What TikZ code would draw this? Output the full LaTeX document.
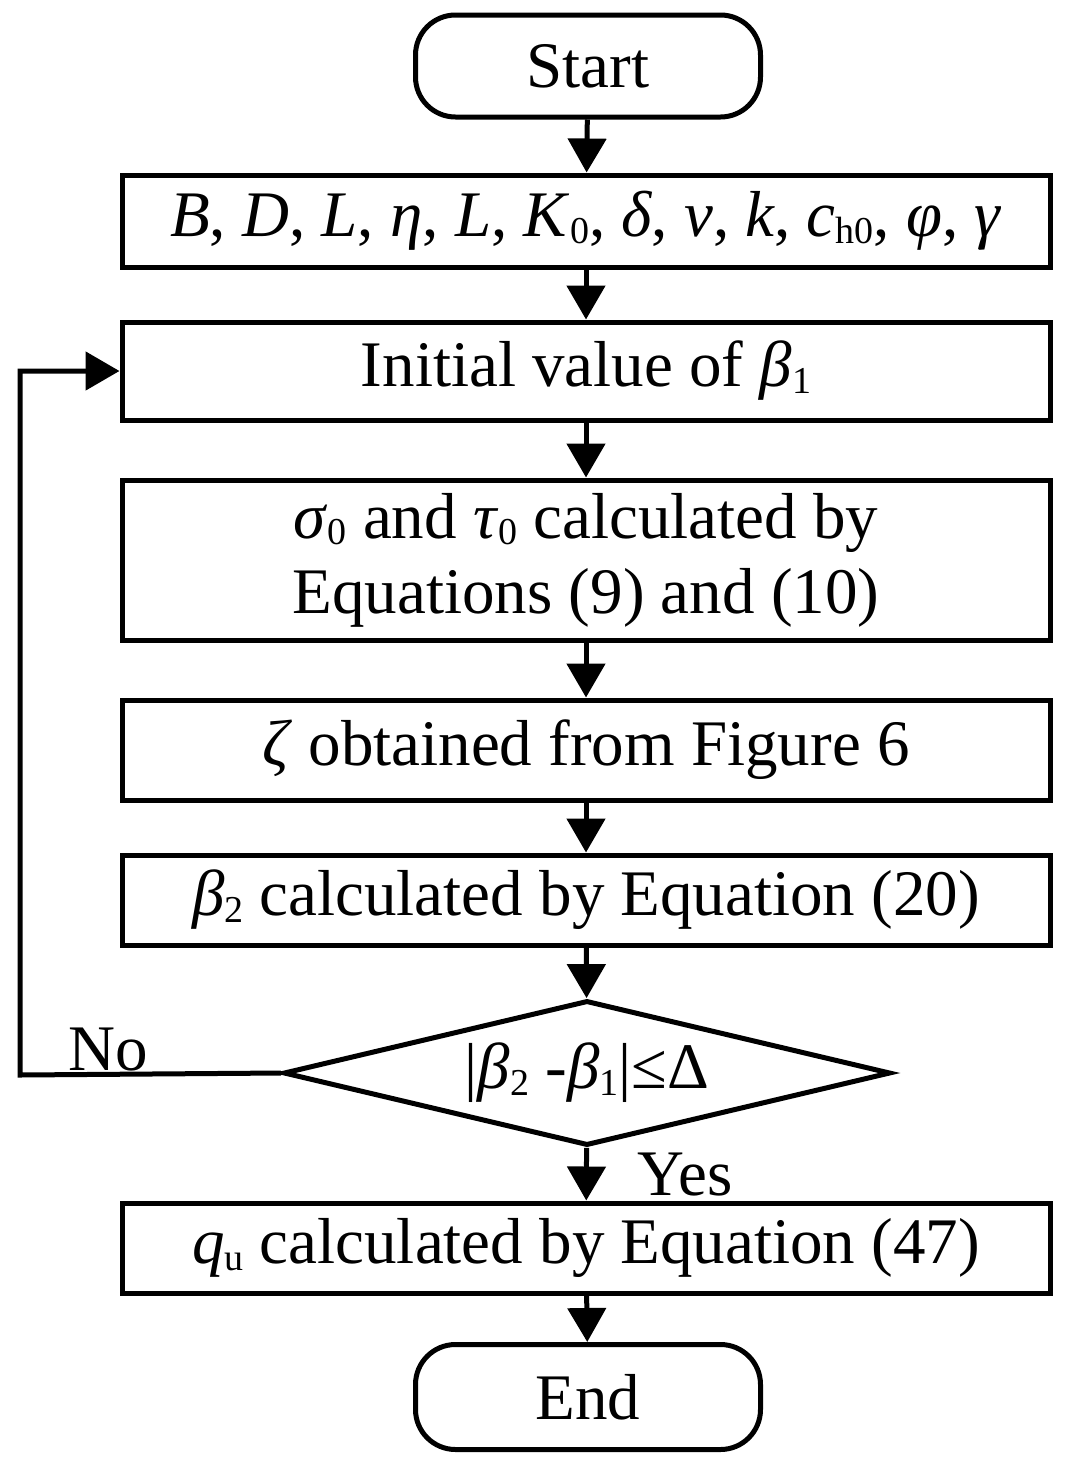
\documentclass[tikz,border=0pt]{standalone}
\usepackage{fontspec}
\setmainfont{Liberation Serif}
\usetikzlibrary{shapes.geometric,arrows.meta}
\newcommand{\sbs}[1]{\raisebox{-0.1em}{\fontsize{38}{38}\selectfont #1}}
\begin{document}
\begin{tikzpicture}[x=1pt,y=-1pt,line width=5pt,
  every node/.style={font=\fontsize{65}{75}\selectfont},
  box/.style={draw,minimum width=928pt,inner sep=0pt,align=center},
  term/.style={draw,rounded corners=40pt,minimum width=345pt,minimum height=102pt,inner sep=0pt},
  arr/.style={-{Triangle[length=34pt,width=38pt]}}]
\useasboundingbox (0,0) rectangle (1067,1465);
\node[term] (s) at (588,66) {Start};
\node[box,minimum height=92pt] (b1) at (586,221) {\textit{B}, \textit{D}, \textit{L}, \textit{η}, \textit{L}, \textit{K}\sbs{0}, \textit{δ}, \textit{v}, \textit{k}, \textit{c}\sbs{h0}, \textit{φ}, \textit{γ}};
\node[box,minimum height=98pt] (b2) at (586,371) {Initial value of \textit{β}\sbs{1}};
\node[box,minimum height=160pt] (b3) at (586,560) {\textit{σ}\sbs{0} and \textit{τ}\sbs{0} calculated by\\Equations (9) and (10)};
\node[box,minimum height=100pt] (b4) at (586,750) {\textit{ζ} obtained from Figure 6};
\node[box,minimum height=90pt] (b5) at (586,900) {\textit{β}\sbs{2} calculated by Equation (20)};
\node[draw,diamond,aspect=4.2,minimum width=607pt,minimum height=145pt,inner sep=0pt] (d) at (587,1073) {|\textit{β}\sbs{2} -\textit{β}\sbs{1}|≤Δ};
\node[box,minimum height=90pt] (b6) at (586,1248) {\textit{q}\sbs{u} calculated by Equation (47)};
\node[term,minimum height=105pt] (e) at (588,1397) {End};
\draw[arr] (s) -- (b1);
\draw[arr] (b1) -- (b2);
\draw[arr] (b2) -- (b3);
\draw[arr] (b3) -- (b4);
\draw[arr] (b4) -- (b5);
\draw[arr] (b5) -- (d);
\draw[arr] (d) -- (b6);
\draw[arr] (b6) -- (e);
\coordinate (c1) at (20,1075);
\coordinate (c2) at (20,371);
\draw[arr] (d.west) -- (c1) -- (c2) -- (b2.west);
\node (no) at (108,1050) {No};
\node (yes) at (685,1175) {Yes};
\end{tikzpicture}
\end{document}
